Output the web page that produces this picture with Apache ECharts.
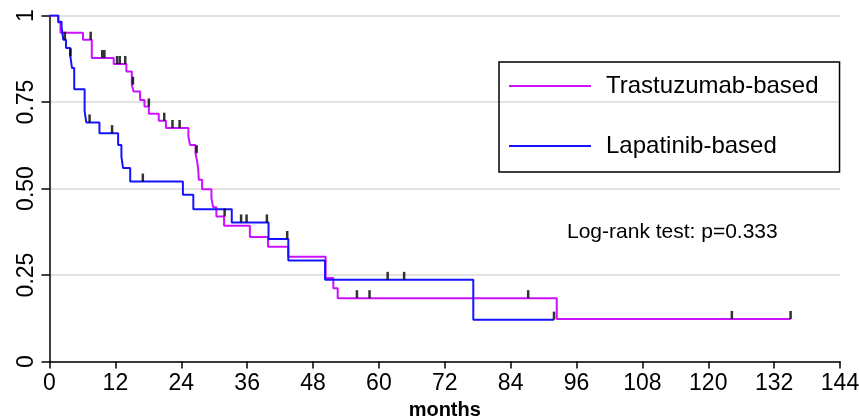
<!DOCTYPE html>
<html>
<head>
<meta charset="utf-8">
<script src="https://cdn.jsdelivr.net/npm/echarts@6/dist/echarts.min.js"></script>
<style>
html,body{margin:0;padding:0;background:#fff;}
#chart{width:859px;height:417px;}
</style>
</head>
<body>
<div id="chart"></div>
<script>
// Kaplan-Meier step data (time in months, survival after the drop)
var trastTimes = [0, 1.6, 2.0, 6.1, 7.7, 11.7, 14.0, 15.0, 15.3, 16.5, 17.3, 18.1, 19.9, 21.2, 25.3, 25.6, 26.6, 26.9, 27.1, 27.2, 27.8, 29.5, 29.8, 30.4, 31.8, 36.5, 39.8, 43.5, 50.3, 51.7, 52.5, 92.4, 135.0];
var trastSurv  = [1, 0.98, 0.95, 0.93, 0.877, 0.86, 0.838, 0.80, 0.78, 0.756, 0.737, 0.716, 0.696, 0.675, 0.65, 0.626, 0.602, 0.578, 0.553, 0.525, 0.498, 0.472, 0.446, 0.419, 0.392, 0.36, 0.332, 0.303, 0.241, 0.212, 0.183, 0.123, 0.123];

var lapTimes = [0, 1.6, 2.2, 2.5, 3.0, 3.8, 4.1, 4.5, 6.4, 6.7, 9.1, 12.5, 13.1, 13.4, 14.7, 24.3, 26.2, 33.2, 39.9, 43.5, 50.2, 77.2, 91.9];
var lapSurv  = [1, 0.982, 0.968, 0.93, 0.906, 0.882, 0.848, 0.787, 0.723, 0.691, 0.66, 0.626, 0.592, 0.559, 0.52, 0.482, 0.44, 0.402, 0.354, 0.292, 0.236, 0.121, 0.121];

// censoring marks
var trastCensT = [7.5, 9.6, 10.0, 12.3, 12.8, 13.8, 15.2, 18.1, 20.9, 22.4, 23.7, 26.8, 31.9, 56.0, 58.3, 87.2, 124.3, 135.0];
var trastCensS = [0.93, 0.877, 0.877, 0.86, 0.86, 0.86, 0.80, 0.737, 0.696, 0.675, 0.675, 0.602, 0.419, 0.183, 0.183, 0.183, 0.123, 0.123];
var lapCensT = [2.8, 3.8, 7.3, 11.4, 17.0, 34.9, 35.9, 39.6, 43.3, 61.6, 64.6, 91.9];
var lapCensS = [0.93, 0.882, 0.691, 0.66, 0.52, 0.402, 0.402, 0.402, 0.354, 0.236, 0.236, 0.121];

var seriesNames = ['Trastuzumab-based', 'Lapatinib-based'];
var yTickValues = [0, 0.25, 0.5, 0.75, 1];
var yTickLabels = ['0', '0.25', '0.50', '0.75', '1'];
var xTickLabels = ['0','12','24','36','48','60','72','84','96','108','120','132','144'];
var annotation = 'Log-rank test: p=0.333';

function zip(a, b) { return a.map(function (v, i) { return [v, b[i]]; }); }

var narrow = "'Liberation Sans Narrow', 'Liberation Sans', Arial, sans-serif";
var sans = "'Liberation Sans', Arial, sans-serif";

var chart = echarts.init(document.getElementById('chart'), null, {renderer: 'canvas'});
chart.setOption({
  animation: false,
  backgroundColor: '#fff',
  grid: {left: 49.5, right: 19, top: 15.5, bottom: 55.5, containLabel: false, outerBoundsMode: 'none'},
  legend: {
    left: 499, top: 62,
    orient: 'vertical',
    data: seriesNames,
    icon: 'rect',
    itemWidth: 82, itemHeight: 2,
    itemGap: 32,
    padding: [10, 21, 12, 10],
    borderColor: '#000', borderWidth: 1.5,
    textStyle: {fontFamily: sans, fontSize: 24, color: '#000', lineHeight: 28, padding: [0, 0, 0, 10]}
  },
  xAxis: {
    type: 'value', min: 0, max: 144, interval: 12,
    name: 'months', nameLocation: 'middle', nameGap: 33,
    nameTextStyle: {fontFamily: narrow, fontSize: 20, fontWeight: 'bold', color: '#000'},
    axisLine: {show: true, onZero: false, lineStyle: {color: '#000', width: 1.5}},
    axisTick: {show: true, length: 7, lineStyle: {color: '#000', width: 1.5}},
    axisLabel: {fontFamily: narrow, fontSize: 23, color: '#000', margin: 11,
      formatter: function (v) { return xTickLabels[Math.round(v / 12)]; }},
    splitLine: {show: false}
  },
  yAxis: {
    type: 'value', min: 0, max: 1, interval: 0.25,
    axisLine: {show: true, lineStyle: {color: '#000', width: 1.5}},
    axisTick: {show: true, length: 8, lineStyle: {color: '#000', width: 1.5}},
    axisLabel: {fontFamily: narrow, fontSize: 23, color: '#000', rotate: 90, margin: 11,
      formatter: function (v) {
        var i = yTickValues.indexOf(Math.round(v * 100) / 100);
        return i >= 0 ? yTickLabels[i] : '';
      }},
    splitLine: {show: true, lineStyle: {color: '#e2e2e2', width: 2}}
  },
  graphic: [{
    type: 'text', left: 567, top: 222,
    style: {text: annotation, font: '21px ' + sans, fill: '#000'}
  }],
  series: [
    {
      name: seriesNames[0], type: 'line', step: 'end', showSymbol: false, symbol: 'none',
      data: zip(trastTimes, trastSurv),
      lineStyle: {color: '#cc11ff', width: 2}, itemStyle: {color: '#cc11ff'}, z: 3
    },
    {
      name: seriesNames[1], type: 'line', step: 'end', showSymbol: false, symbol: 'none',
      data: zip(lapTimes, lapSurv),
      lineStyle: {color: '#1414ff', width: 2}, itemStyle: {color: '#1414ff'}, z: 4
    },
    {
      type: 'scatter', data: zip(trastCensT, trastCensS),
      symbol: 'rect', symbolSize: [2.5, 8], symbolOffset: [0, -4],
      itemStyle: {color: '#000'}, z: 5, silent: true
    },
    {
      type: 'scatter', data: zip(lapCensT, lapCensS),
      symbol: 'rect', symbolSize: [2.5, 8], symbolOffset: [0, -4],
      itemStyle: {color: '#000'}, z: 5, silent: true
    }
  ]
});
</script>
</body>
</html>
